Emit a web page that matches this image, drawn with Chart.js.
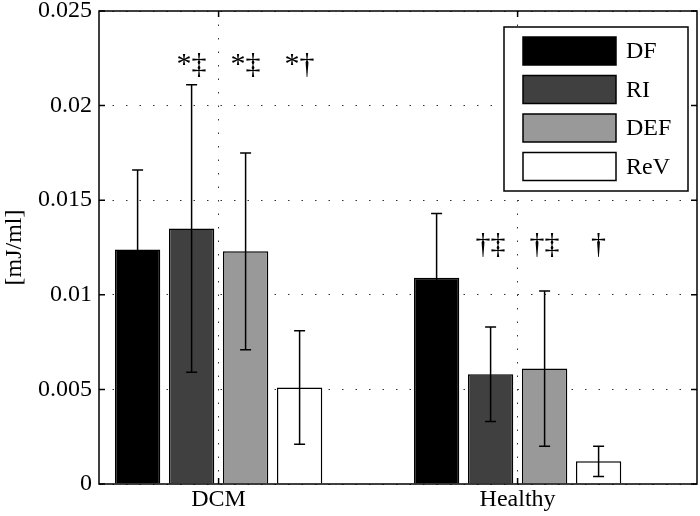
<!DOCTYPE html>
<html>
<head>
<meta charset="utf-8">
<script src="https://cdn.jsdelivr.net/npm/chart.js@4.4.0/dist/chart.umd.min.js"></script>
<style>
  html, body { margin: 0; padding: 0; background: #fff; }
  #wrap { width: 700px; height: 516px; }
</style>
</head>
<body>
<div id="wrap"><canvas id="energyChart" width="700" height="516"></canvas></div>
<script>
// values
const groups = ['DCM', 'Healthy'];
const seriesNames = ['DF', 'RI', 'DEF', 'ReV'];
const dfValues = [0.0124, 0.0109];
const dfErrors = [0.0042, 0.0034];
const riValues = [0.0135, 0.0058];
const riErrors = [0.0076, 0.0025];
const defValues = [0.0123, 0.0061];
const defErrors = [0.0052, 0.0041];
const revValues = [0.0051, 0.0012];
const revErrors = [0.0030, 0.0008];
// significance marks, per group, per series
const marks = [['', '*\u2021', '*\u2021', '*\u2020'], ['', '\u2020\u2021', '\u2020\u2021', '\u2020']];
const yTickLabels = ['0', '0.005', '0.01', '0.015', '0.02', '0.025'];

const serif = '"Liberation Serif", "Times New Roman", serif';
const font24 = { family: serif, size: 24 };

function toPoints(vals) {
    return vals.map((v, i) => ({ x: i + 1, y: v }));
}

const allErrors = [dfErrors, riErrors, defErrors, revErrors];
const allValues = [dfValues, riValues, defValues, revValues];
const fills = ['#000000', '#404040', '#999999', '#ffffff'];

const datasets = seriesNames.map((name, k) => ({
    label: name,
    data: toPoints(allValues[k]),
    backgroundColor: fills[k],
    borderColor: '#000',
    borderWidth: 1.5,
    categoryPercentage: 0.7224,
    barPercentage: 0.84
}));

// error bars on top of the bars
const errorBars = {
    id: 'errorBars',
    afterDatasetsDraw(chart) {
        const ctx = chart.ctx;
        const y = chart.scales.y;
        ctx.save();
        ctx.strokeStyle = '#000';
        ctx.lineWidth = 1.5;
        chart.data.datasets.forEach((ds, k) => {
            const meta = chart.getDatasetMeta(k);
            meta.data.forEach((bar, j) => {
                const v = allValues[k][j];
                const e = allErrors[k][j];
                const top = y.getPixelForValue(v + e);
                const bot = y.getPixelForValue(v - e);
                ctx.beginPath();
                ctx.moveTo(bar.x, top); ctx.lineTo(bar.x, bot);
                ctx.moveTo(bar.x - 5.5, top); ctx.lineTo(bar.x + 5.5, top);
                ctx.moveTo(bar.x - 5.5, bot); ctx.lineTo(bar.x + 5.5, bot);
                ctx.stroke();
            });
        });
        ctx.restore();
    }
};

// stars and daggers above the groups
const sigMarks = {
    id: 'sigMarks',
    afterDatasetsDraw(chart, args, opts) {
        const ctx = chart.ctx;
        const y = chart.scales.y;
        ctx.save();
        ctx.fillStyle = '#000';
        ctx.font = '30px ' + serif;
        ctx.textAlign = 'center';
        ctx.textBaseline = 'alphabetic';
        marks.forEach((row, j) => {
            row.forEach((txt, k) => {
                if (!txt) return;
                const bar = chart.getDatasetMeta(k).data[j];
                ctx.fillText(txt, bar.x, y.getPixelForValue(opts.levels[j]));
            });
        });
        ctx.restore();
    }
};

// matlab style box with inward ticks
const axesBox = {
    id: 'axesBox',
    afterDraw(chart) {
        const ctx = chart.ctx;
        const a = chart.chartArea;
        const xs = chart.scales.x, ys = chart.scales.y;
        ctx.save();
        ctx.strokeStyle = '#000';
        ctx.lineWidth = 1.5;
        ctx.strokeRect(a.left, a.top, a.right - a.left, a.bottom - a.top);
        ctx.beginPath();
        ys.ticks.forEach(t => {
            const p = ys.getPixelForValue(t.value);
            ctx.moveTo(a.left, p); ctx.lineTo(a.left + 6, p);
            ctx.moveTo(a.right, p); ctx.lineTo(a.right - 6, p);
        });
        xs.ticks.forEach(t => {
            const p = xs.getPixelForValue(t.value);
            ctx.moveTo(p, a.bottom); ctx.lineTo(p, a.bottom - 6);
            ctx.moveTo(p, a.top); ctx.lineTo(p, a.top + 6);
        });
        ctx.stroke();
        ctx.restore();
    }
};

// boxed legend inside the axes, top right
const boxLegend = {
    id: 'boxLegend',
    afterDraw(chart) {
        const ctx = chart.ctx;
        const a = chart.chartArea;
        const w = 184, h = 164;
        const left = a.right - 9 - w, top = a.top + 16;
        ctx.save();
        ctx.fillStyle = '#fff';
        ctx.fillRect(left, top, w, h);
        ctx.strokeStyle = '#000';
        ctx.lineWidth = 1.5;
        ctx.strokeRect(left, top, w, h);
        ctx.font = '24px ' + serif;
        ctx.textBaseline = 'middle';
        ctx.textAlign = 'left';
        chart.data.datasets.forEach((ds, k) => {
            const cy = top + 24 + k * 38.5;
            ctx.fillStyle = ds.backgroundColor;
            ctx.fillRect(left + 19, cy - 14, 93, 28);
            ctx.lineWidth = 1.5;
            ctx.strokeRect(left + 19, cy - 14, 93, 28);
            ctx.fillStyle = '#000';
            ctx.fillText(ds.label, left + 122, cy + 1);
        });
        ctx.restore();
    }
};

const ctx = document.getElementById('energyChart').getContext('2d');
const energyChart = new Chart(ctx, {
    type: 'bar',
    data: { datasets: datasets },
    plugins: [errorBars, sigMarks, axesBox, boxLegend],
    options: {
        responsive: false,
        animation: false,
        devicePixelRatio: 1,
        layout: { padding: { top: 11, right: 3, left: 0, bottom: 0 } },
        plugins: {
            legend: { display: false },
            tooltip: { enabled: false },
            sigMarks: { levels: [0.0217, 0.0122] }
        },
        scales: {
            x: {
                type: 'linear',
                min: 0.6,
                max: 2.6,
                offset: false,
                afterBuildTicks: s => { s.ticks = groups.map((g, i) => ({ value: i + 1 })); },
                afterFit: s => { s.height = 32; s.paddingLeft = 0; s.paddingRight = 0; },
                ticks: {
                    callback: v => groups[v - 1] || '',
                    font: font24,
                    color: '#000',
                    padding: 1,
                    maxRotation: 0,
                    autoSkip: false
                },
                grid: { color: '#333', lineWidth: 1, drawTicks: false, offset: false },
                border: { display: false, dash: [1.5, 12] }
            },
            y: {
                min: 0,
                max: 0.025,
                afterBuildTicks: s => { s.ticks = yTickLabels.map(t => ({ value: parseFloat(t) })); },
                afterFit: s => { s.width = 99; s.paddingTop = 0; s.paddingBottom = 0; },
                ticks: {
                    callback: (v, i) => yTickLabels[i],
                    font: font24,
                    color: '#000',
                    padding: 7
                },
                title: { display: true, text: '[mJ/ml]', font: font24, color: '#000', padding: 0 },
                grid: { color: '#333', lineWidth: 1, drawTicks: false },
                border: { display: false, dash: [1.5, 12] }
            }
        }
    }
});
</script>
</body>
</html>
